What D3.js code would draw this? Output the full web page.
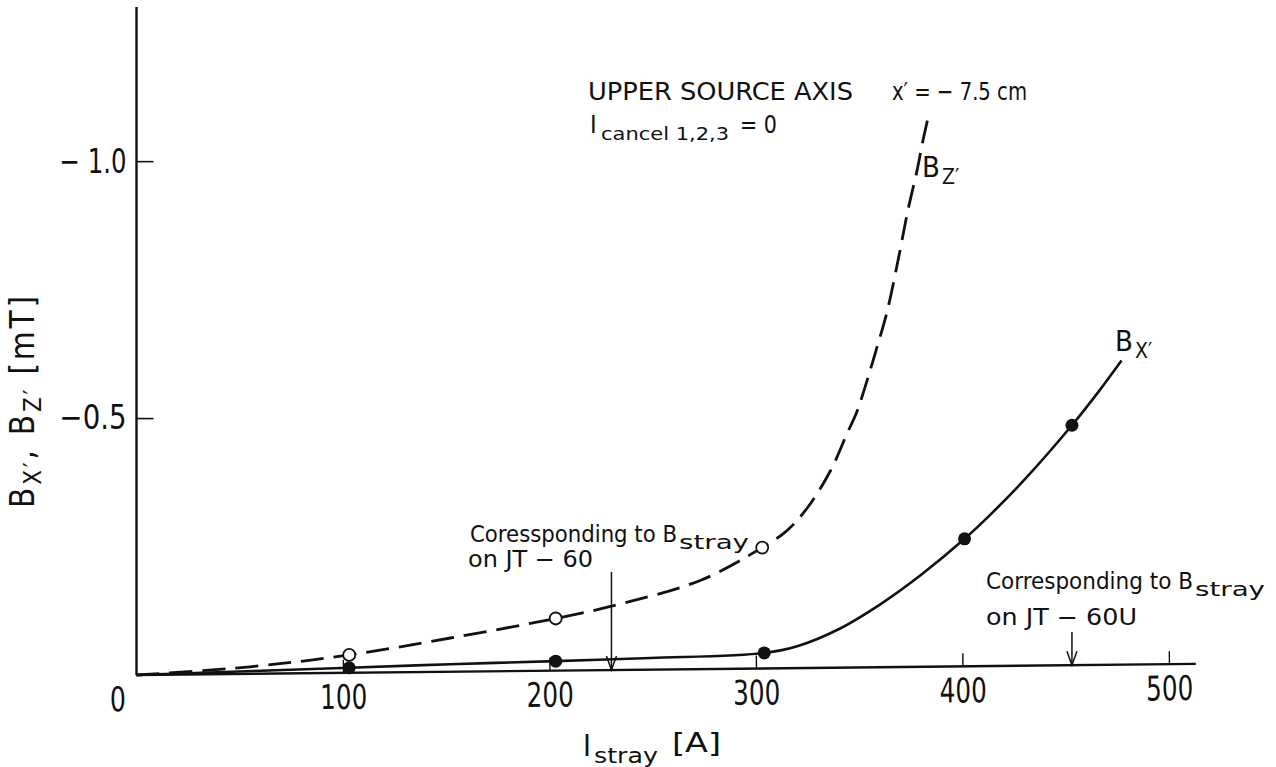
<!DOCTYPE html>
<html>
<head>
<meta charset="utf-8">
<script src="https://cdn.jsdelivr.net/npm/d3@7"></script>
<style>
  html, body { margin: 0; padding: 0; background: #fff; }
  svg { display: block; }
  text { font-family: "DejaVu Sans Condensed", "DejaVu Sans", sans-serif; fill: #111; }
</style>
</head>
<body>
<svg id="chart" width="1276" height="767"></svg>
<script>
// Field components on the upper source axis vs. stray current (mT, negative)
const bzCurrent = [0, 55, 103, 152, 203, 230, 273, 303, 315, 325, 336, 344, 349, 353.7, 358.6, 363.4, 368.8, 373.6, 378.0, 380.9, 383.8];
const bzField   = [0, -0.016, -0.039, -0.072, -0.110, -0.134, -0.184, -0.248, -0.281, -0.326, -0.397, -0.469, -0.514, -0.572, -0.638, -0.706, -0.807, -0.905, -0.982, -1.041, -1.093];

const bxCurrent = [0, 103, 152, 203, 249, 304, 320, 340, 360, 380, 401, 415, 430, 453, 466, 477];
const bxField   = [0, -0.014, -0.021, -0.027, -0.033, -0.043, -0.056, -0.089, -0.137, -0.195, -0.265, -0.318, -0.380, -0.486, -0.552, -0.612];

// Measured points
const bzPointCurrent = [103, 203, 303];
const bzPointField   = [-0.039, -0.110, -0.248];
const bxPointCurrent = [103, 203, 304, 401, 453];
const bxPointField   = [-0.014, -0.027, -0.043, -0.265, -0.486];

// Axis ticks
const xTicks = [100, 200, 300, 400, 500];
const xTickLabels = ["100", "200", "300", "400", "500"];
const yTicks = [-1.0, -0.5];
const yTickLabels = ["\u2212 1.0", "\u22120.5"];

// Stray current levels corresponding to JT-60 and JT-60U
const markCurrent = [230, 453];

const svg = d3.select("#chart");

const x = d3.scaleLinear().domain([0, 500]).range([136.5, 1169]);
const y = d3.scaleLinear().domain([0, -1.3]).range([675, 7]);

const INK = "#111";

// text helper: a piece of text at an exact position, optionally fitted to a width
function txt(px, py, s, size, len) {
  const t = svg.append("text").attr("x", px).attr("y", py).attr("font-size", size).text(s);
  if (len) t.attr("textLength", len).attr("lengthAdjust", "spacingAndGlyphs");
  return t;
}

// ---- y axis ----
const yAxis = d3.axisLeft(y).tickValues(yTicks).tickSize(-17)
  .tickFormat((d, i) => yTickLabels[i]);
const gy = svg.append("g").attr("transform", `translate(${x(0)},0)`).call(yAxis);
gy.select(".domain").remove();
gy.selectAll(".tick line").attr("stroke", INK).attr("stroke-width", 1.6);
gy.selectAll(".tick text").attr("x", -10).attr("font-size", 34).attr("fill", INK)
  .attr("textLength", 67).attr("lengthAdjust", "spacingAndGlyphs");
gy.append("line").attr("x1", 0).attr("x2", 0).attr("y1", y(0)).attr("y2", y(-1.3))
  .attr("stroke", INK).attr("stroke-width", 2.4);

// ---- x axis (drawn with the slight skew of the plotter) ----
const skew = -0.6;
const xAxis = d3.axisBottom(x).tickValues(xTicks).tickSize(-13)
  .tickFormat((d, i) => xTickLabels[i]);
const gx = svg.append("g")
  .attr("transform", `translate(${x(0)},${y(0)}) rotate(${skew}) translate(${-x(0)},0)`)
  .call(xAxis);
gx.select(".domain").remove();
gx.selectAll(".tick line").attr("stroke", INK).attr("stroke-width", 1.4);
gx.selectAll(".tick text").attr("y", 36).attr("dy", null).attr("font-size", 34).attr("fill", INK)
  .attr("textLength", 47).attr("lengthAdjust", "spacingAndGlyphs");
gx.append("line").attr("x1", x(0)).attr("x2", x(513)).attr("y1", 0).attr("y2", 0)
  .attr("stroke", INK).attr("stroke-width", 2.4);
gx.append("text").attr("x", x(0) - 19).attr("y", 36).attr("text-anchor", "middle")
  .attr("font-size", 34).attr("textLength", 16).attr("lengthAdjust", "spacingAndGlyphs").text("0");

// ---- curves ----
const line = d3.line().x(d => x(d[0])).y(d => y(d[1])).curve(d3.curveCatmullRom.alpha(0.5));

svg.append("path")
  .datum(bzCurrent.map((c, i) => [c, bzField[i]]))
  .attr("d", line).attr("fill", "none").attr("stroke", INK)
  .attr("stroke-width", 2.8).attr("stroke-dasharray", "23,10");

svg.append("path")
  .datum(bxCurrent.map((c, i) => [c, bxField[i]]))
  .attr("d", line).attr("fill", "none").attr("stroke", INK)
  .attr("stroke-width", 2.6);

svg.selectAll("circle.bz").data(bzPointCurrent).enter().append("circle")
  .attr("class", "bz").attr("cx", d => x(d)).attr("cy", (d, i) => y(bzPointField[i]))
  .attr("r", 6).attr("fill", "#fff").attr("stroke", INK).attr("stroke-width", 1.8);

svg.selectAll("circle.bx").data(bxPointCurrent).enter().append("circle")
  .attr("class", "bx").attr("cx", d => x(d)).attr("cy", (d, i) => y(bxPointField[i]))
  .attr("r", 6.5).attr("fill", INK);

// ---- arrows at the reference stray currents ----
const arrowTop = [572, 632];
markCurrent.forEach((c, i) => {
  const px = x(c);
  const yb = y(0) + (px - x(0)) * Math.tan(skew * Math.PI / 180);
  svg.append("line").attr("x1", px).attr("x2", px).attr("y1", arrowTop[i]).attr("y2", yb)
    .attr("stroke", INK).attr("stroke-width", 1.5);
  svg.append("path").attr("d", `M${px - 5},${yb - 14} L${px},${yb} L${px + 5},${yb - 14}`)
    .attr("fill", "none").attr("stroke", INK).attr("stroke-width", 1.5);
});

// ---- header ----
txt(588, 100, "UPPER SOURCE AXIS", 24, 265);
txt(892, 100, "x\u2032 = \u2212 7.5 cm", 25, 135);
txt(590, 133, "I", 25);
txt(601, 140, "cancel 1,2,3", 18, 128);
txt(740, 133, "= 0", 25, 37);

// ---- curve labels ----
txt(922, 177, "B", 29);
txt(942, 184, "Z\u2032", 21);
txt(1115, 351, "B", 29);
txt(1135, 358, "X\u2032", 21);

// ---- annotations ----
txt(470, 542, "Coressponding to B", 23, 207);
txt(679, 549, "stray", 19, 70);
txt(468, 567, "on JT \u2212 60", 23, 125);

txt(986, 589, "Corresponding to B", 23, 207);
txt(1195, 596, "stray", 19, 70);
txt(986, 625, "on JT \u2212 60U", 23, 151);

// ---- axis titles ----
txt(583, 756, "I", 30);
txt(594, 763, "stray", 21, 64);
txt(672, 752, "[A]", 27, 49);

const yt = svg.append("text").attr("transform", "translate(34,402) rotate(-90)")
  .attr("text-anchor", "middle").attr("font-size", 33)
  .attr("textLength", 212).attr("lengthAdjust", "spacing");
yt.append("tspan").text("B");
yt.append("tspan").text("X\u2032").attr("font-size", 24).attr("dy", 7);
yt.append("tspan").text(", B").attr("dy", -7);
yt.append("tspan").text("Z\u2032").attr("font-size", 24).attr("dy", 7);
yt.append("tspan").text(" [mT]").attr("dy", -7);
</script>
</body>
</html>
